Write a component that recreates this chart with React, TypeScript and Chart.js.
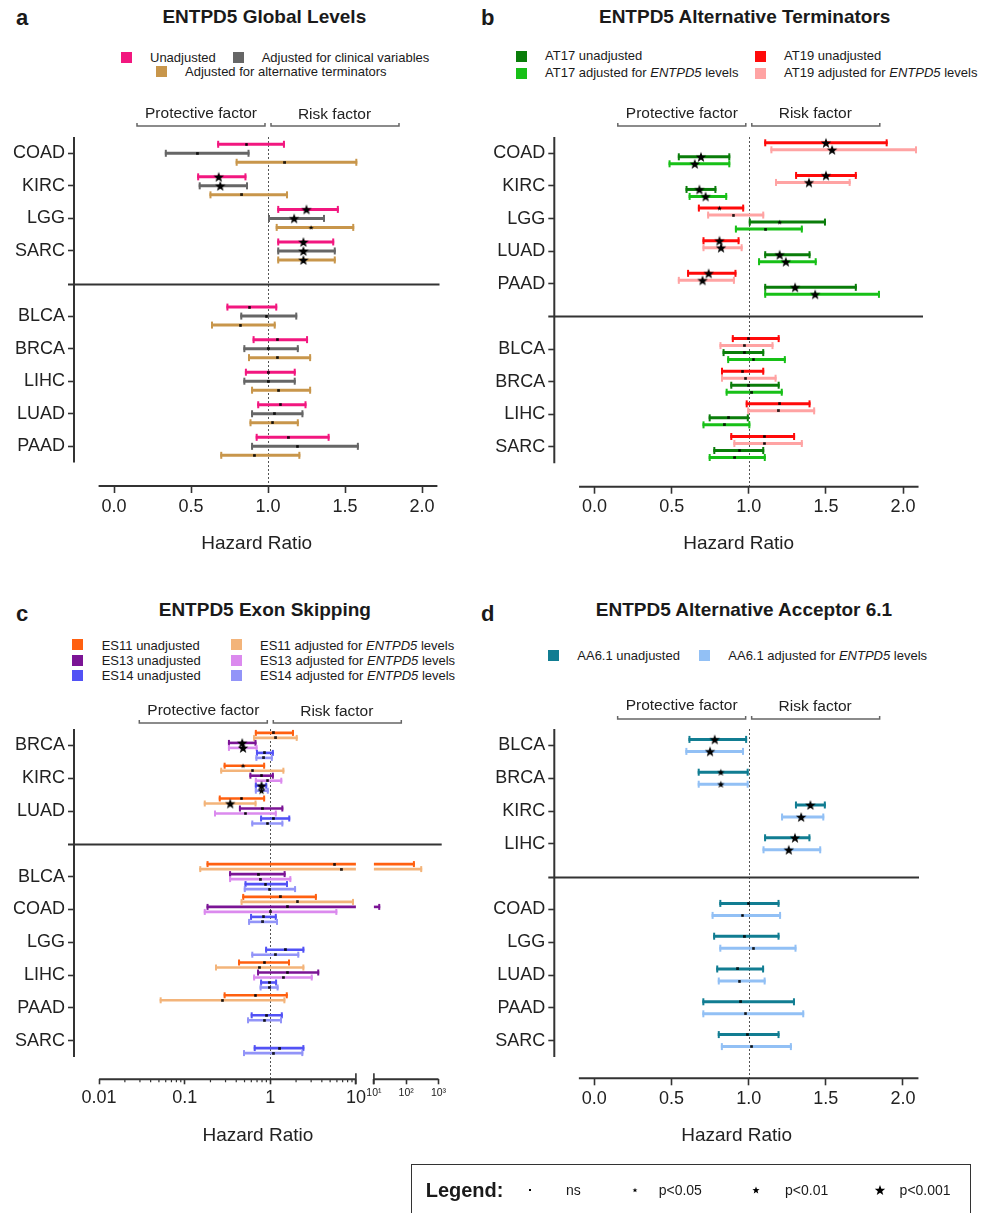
import React, { useEffect, useRef } from 'react';
import { Chart, registerables } from 'chart.js';

Chart.register(...registerables);

const FONT = '"Liberation Sans", Arial, Helvetica, sans-serif';

/* ======================= DATA ======================= */
// each row: [lower 95% CI, hazard ratio, upper 95% CI, significance: 0 ns, 1 p<0.05, 2 p<0.01, 3 p<0.001]

// a — ENTPD5 Global Levels
const A_TOP = ['COAD', 'KIRC', 'LGG', 'SARC'];
const A_BOTTOM = ['BLCA', 'BRCA', 'LIHC', 'LUAD', 'PAAD'];
const A_UNADJUSTED = [
  [0.67, 0.86, 1.11, 0], [0.54, 0.68, 0.86, 3], [1.06, 1.25, 1.46, 3], [1.06, 1.23, 1.43, 3],
  [0.73, 0.88, 1.06, 0], [0.90, 1.06, 1.26, 0], [0.85, 1.00, 1.18, 0], [0.93, 1.08, 1.25, 0], [0.92, 1.13, 1.40, 0],
];
const A_CLINICAL = [
  [0.33, 0.54, 0.88, 0], [0.55, 0.69, 0.87, 3], [1.00, 1.17, 1.37, 3], [1.06, 1.23, 1.44, 3],
  [0.82, 0.99, 1.19, 0], [0.84, 1.00, 1.20, 0], [0.84, 1.00, 1.18, 0], [0.89, 1.04, 1.23, 0], [0.89, 1.19, 1.59, 0],
];
const A_TERMINATORS = [
  [0.79, 1.11, 1.58, 0], [0.62, 0.83, 1.13, 0], [1.05, 1.28, 1.56, 1], [1.06, 1.23, 1.44, 3],
  [0.63, 0.82, 1.05, 0], [0.87, 1.06, 1.28, 0], [0.89, 1.07, 1.28, 0], [0.88, 1.03, 1.20, 0], [0.69, 0.91, 1.21, 0],
];

// b — ENTPD5 Alternative Terminators
const B_TOP = ['COAD', 'KIRC', 'LGG', 'LUAD', 'PAAD'];
const B_BOTTOM = ['BLCA', 'BRCA', 'LIHC', 'SARC'];
const B_AT19_UNADJ = [
  [1.10, 1.50, 1.90, 3], [1.30, 1.50, 1.70, 3], [0.67, 0.81, 0.97, 1], [0.70, 0.81, 0.94, 3], [0.60, 0.74, 0.92, 3],
  [0.89, 1.00, 1.20, 0], [0.82, 0.96, 1.10, 0], [0.98, 1.20, 1.40, 0], [0.88, 1.10, 1.30, 0],
];
const B_AT19_ADJ = [
  [1.14, 1.54, 2.09, 3], [1.17, 1.39, 1.66, 3], [0.73, 0.90, 1.10, 0], [0.70, 0.82, 0.96, 3], [0.54, 0.70, 0.91, 3],
  [0.81, 0.97, 1.16, 0], [0.82, 0.98, 1.18, 0], [0.99, 1.19, 1.43, 0], [0.90, 1.10, 1.35, 0],
];
const B_AT17_UNADJ = [
  [0.54, 0.69, 0.88, 3], [0.59, 0.68, 0.79, 3], [1.00, 1.20, 1.50, 1], [1.10, 1.20, 1.40, 3], [1.10, 1.30, 1.70, 3],
  [0.83, 0.97, 1.10, 0], [0.88, 1.00, 1.20, 0], [0.74, 0.87, 1.00, 0], [0.77, 0.94, 1.10, 0],
];
const B_AT17_ADJ = [
  [0.48, 0.65, 0.88, 3], [0.61, 0.72, 0.86, 3], [0.91, 1.11, 1.35, 0], [1.06, 1.24, 1.44, 3], [1.10, 1.43, 1.85, 3],
  [0.86, 1.03, 1.24, 0], [0.85, 1.02, 1.22, 0], [0.70, 0.84, 1.01, 0], [0.74, 0.91, 1.11, 0],
];

// c — ENTPD5 Exon Skipping (null = not estimated)
const C_TOP = ['BRCA', 'KIRC', 'LUAD'];
const C_BOTTOM = ['BLCA', 'COAD', 'LGG', 'LIHC', 'PAAD', 'SARC'];
const C_ES11_UNADJ = [
  [0.66, 1.08, 1.89, 0], [0.285, 0.48, 0.87, 1], [0.25, 0.46, 0.87, 0],
  [0.18, 5.65, 186, 0], [0.47, 1.30, 3.5, 0], null, [0.42, 0.85, 1.70, 0], [0.285, 0.67, 1.60, 0], null,
];
const C_ES11_ADJ = [
  [0.63, 1.16, 2.09, 0], [0.26, 0.62, 1.46, 0], [0.167, 0.34, 0.69, 3],
  [0.148, 6.7, 313, 0], [0.45, 2.07, 9.5, 0], null, [0.226, 0.74, 2.5, 0], [0.051, 0.275, 1.50, 0], null,
];
const C_ES13_UNADJ = [
  [0.32, 0.47, 0.69, 3], [0.57, 0.79, 1.10, 0], [0.43, 0.80, 1.42, 0],
  [0.33, 0.72, 1.51, 0], [0.18, 1.58, 15.7, 0], null, [0.70, 1.58, 3.73, 0], null, null,
];
const C_ES13_ADJ = [
  [0.32, 0.48, 0.71, 3], [0.66, 0.93, 1.38, 0], [0.22, 0.51, 1.19, 0],
  [0.33, 0.76, 1.76, 0], [0.167, 1.00, 6.07, 0], null, [0.63, 1.41, 3.13, 0], null, null,
];
const C_ES14_UNADJ = [
  [0.68, 0.85, 1.10, 0], [0.66, 0.79, 0.92, 3], [0.76, 1.08, 1.71, 0],
  [0.50, 0.88, 1.61, 0], [0.58, 0.83, 1.19, 0], [0.87, 1.49, 2.50, 0], [0.76, 0.97, 1.20, 0], [0.59, 0.91, 1.40, 0], [0.64, 1.29, 2.50, 0],
];
const C_ES14_ADJ = [
  [0.67, 0.84, 1.07, 0], [0.66, 0.79, 0.96, 2], [0.60, 0.93, 1.42, 0],
  [0.49, 0.98, 2.00, 0], [0.55, 0.82, 1.23, 0], [0.60, 1.14, 2.18, 0], [0.75, 0.97, 1.25, 0], [0.535, 0.85, 1.37, 0], [0.48, 1.08, 2.43, 0],
];

// d — ENTPD5 Alternative Acceptor 6.1
const D_TOP = ['BLCA', 'BRCA', 'KIRC', 'LIHC'];
const D_BOTTOM = ['COAD', 'LGG', 'LUAD', 'PAAD', 'SARC'];
const D_UNADJ = [
  [0.61, 0.78, 0.99, 3], [0.67, 0.82, 1.00, 2], [1.30, 1.40, 1.50, 3], [1.10, 1.30, 1.40, 3],
  [0.81, 1.00, 1.20, 0], [0.77, 0.97, 1.20, 0], [0.79, 0.93, 1.10, 0], [0.70, 0.95, 1.30, 0], [0.80, 0.99, 1.20, 0],
];
const D_ADJ = [
  [0.59, 0.75, 0.97, 3], [0.67, 0.82, 1.00, 2], [1.21, 1.34, 1.49, 3], [1.09, 1.26, 1.47, 3],
  [0.76, 0.96, 1.21, 0], [0.81, 1.03, 1.31, 0], [0.80, 0.94, 1.11, 0], [0.70, 0.98, 1.36, 0], [0.82, 1.02, 1.28, 0],
];

// axis ticks
const LINEAR_TICKS = [0, 0.5, 1, 1.5, 2];
const LINEAR_AXIS_EXTENT = [-0.1, 2.1];
const LOG_TICKS_MAIN = [0.01, 0.1, 1, 10];
const LOG_LABELS_MAIN = ['0.01', '0.1', '1', '10'];
const LOG_TICKS_HIGH = [10, 100, 1000];
const LOG_LABELS_HIGH = ['10\u00B9', '10\u00B2', '10\u00B3'];
const SIG_LABELS = ['ns', 'p<0.05', 'p<0.01', 'p<0.001'];

/* ======================= STYLE / LAYOUT ======================= */
const BREAK = 10;
const LOG_GAP = 18 / 85.6;
const LOG_K = 32.3 / 85.6;
const SIG_RADIUS = [0, 2.6, 3.8, 5.5];

function toU(v: number, log: boolean, high = false) {
  if (!log) return v;
  const L = Math.log10(v);
  if (v <= BREAK && !high) return L;
  return 1 + LOG_GAP + (L - 1) * LOG_K;
}

function pieces(lo: number, hi: number, log: boolean) {
  if (!log || hi <= BREAK) return [[toU(lo, log), toU(hi, log), true, true]];
  return [
    [toU(lo, log), toU(BREAK, log), true, false],
    [toU(BREAK, log, true), toU(hi, log, true), false, true],
  ];
}

function starPath(g: any, cx: number, cy: number, r: number) {
  const ri = r * 0.42;
  g.beginPath();
  for (let i = 0; i < 10; i++) {
    const ang = -Math.PI / 2 + (i * Math.PI) / 5;
    const rr = i % 2 === 0 ? r : ri;
    const px = cx + rr * Math.cos(ang);
    const py = cy + rr * Math.sin(ang);
    if (i === 0) g.moveTo(px, py);
    else g.lineTo(px, py);
  }
  g.closePath();
}

function makeMarkers() {
  return [0, 1, 2, 3].map((sig) => {
    const c = document.createElement('canvas');
    const g: any = c.getContext('2d');
    if (sig === 0) {
      c.width = 3; c.height = 3;
      g.fillStyle = '#000';
      g.fillRect(0.25, 0.25, 2.5, 2.5);
      return c;
    }
    const r = SIG_RADIUS[sig];
    const size = Math.ceil(2 * r + 3);
    c.width = size; c.height = size;
    g.fillStyle = '#000';
    starPath(g, size / 2, size / 2 + r * 0.1, r);
    g.fill();
    return c;
  });
}

const PANEL_A = {
  top: A_TOP, bottom: A_BOTTOM, log: false, step: 0.2764, barWidth: 3, capH: 7,
  series: [
    { label: 'Unadjusted', color: '#F2177F', rows: A_UNADJUSTED },
    { label: 'Adjusted for clinical variables', color: '#666666', rows: A_CLINICAL },
    { label: 'Adjusted for alternative terminators', color: '#C8964B', rows: A_TERMINATORS },
  ],
  geo: { canvasLeft: 0, canvasTop: 88, width: 475, height: 480, areaLeft: 74, areaTop: 137, areaRight: 439.5, areaBottom: 486,
    zeroPx: 114, unitPx: 154, slotPx: 32.56, titleCy: 544, bracketDy: -11, textDy: -23.5, xTickLen: 7 },
};
const PANEL_B = {
  top: B_TOP, bottom: B_BOTTOM, log: false, step: 0.2145, barWidth: 3, capH: 7,
  series: [
    { label: 'AT19 unadjusted', color: '#FF0A0A', rows: B_AT19_UNADJ },
    { label: 'AT19 adjusted for ENTPD5 levels', color: '#FFA3A3', rows: B_AT19_ADJ },
    { label: 'AT17 unadjusted', color: '#0A7D0A', rows: B_AT17_UNADJ },
    { label: 'AT17 adjusted for ENTPD5 levels', color: '#17C017', rows: B_AT17_ADJ },
  ],
  geo: { canvasLeft: 480, canvasTop: 88, width: 475, height: 480, areaLeft: 554.3, areaTop: 137, areaRight: 923, areaBottom: 486.7,
    zeroPx: 594.5, unitPx: 154.3, slotPx: 32.63, titleCy: 544, bracketDy: -11, textDy: -23.7, xTickLen: 7 },
};
const PANEL_C = {
  top: C_TOP, bottom: C_BOTTOM, log: true, step: 0.1524, barWidth: 2.6, capH: 6,
  series: [
    { label: 'ES11 unadjusted', color: '#FF6010', rows: C_ES11_UNADJ },
    { label: 'ES11 adjusted for ENTPD5 levels', color: '#F3B47A', rows: C_ES11_ADJ },
    { label: 'ES13 unadjusted', color: '#7B1495', rows: C_ES13_UNADJ },
    { label: 'ES13 adjusted for ENTPD5 levels', color: '#DB8AEE', rows: C_ES13_ADJ },
    { label: 'ES14 unadjusted', color: '#5252F5', rows: C_ES14_UNADJ },
    { label: 'ES14 adjusted for ENTPD5 levels', color: '#9294F8', rows: C_ES14_ADJ },
  ],
  geo: { canvasLeft: 0, canvasTop: 678, width: 475, height: 492, areaLeft: 74, areaTop: 729, areaRight: 441.7, areaBottom: 1079.3,
    zeroPx: 270.3, unitPx: 85.6, slotPx: 32.8, titleCy: 1136, bracketDy: -6, textDy: -18.5, xTickLen: 5 },
};
const PANEL_D = {
  top: D_TOP, bottom: D_BOTTOM, log: false, step: 0.366, barWidth: 3, capH: 7,
  series: [
    { label: 'AA6.1 unadjusted', color: '#117D92', rows: D_UNADJ },
    { label: 'AA6.1 adjusted for ENTPD5 levels', color: '#92C0F5', rows: D_ADJ },
  ],
  geo: { canvasLeft: 480, canvasTop: 678, width: 475, height: 492, areaLeft: 554.3, areaTop: 729, areaRight: 919, areaBottom: 1078.3,
    zeroPx: 594.3, unitPx: 154.35, slotPx: 32.8, titleCy: 1136, bracketDy: -10, textDy: -23.3, xTickLen: 7 },
};

function buildChart(canvas: HTMLCanvasElement, p: any) {
  const g = p.geo;
  const markers = makeMarkers();
  const nTop = p.top.length;
  const cats = [...p.top, ...p.bottom];
  const slotOf = (i: number) => (i < nTop ? i : i + 1);
  const slots = cats.map((_: any, i: number) => slotOf(i));
  const lastSlot = cats.length;
  const ns = p.series.length;

  const datasets = p.series.map((s: any, si: number) => ({
    label: s.label,
    borderColor: s.color,
    backgroundColor: s.color,
    data: s.rows
      .map((r: any, i: number) => (r ? { x: toU(r[1], p.log), y: slotOf(i) + (si - (ns - 1) / 2) * p.step, lo: r[0], hi: r[2], sig: r[3] } : null))
      .filter((d: any) => d),
    pointStyle: (ctx: any) => markers[ctx.raw ? ctx.raw.sig : 0],
    pointRadius: 3,
    pointHoverRadius: 3,
  }));

  let tickList: any[];
  if (p.log) {
    tickList = [
      ...LOG_TICKS_MAIN.map((v, i) => ({ u: toU(v, true), label: LOG_LABELS_MAIN[i], small: false })),
      ...LOG_TICKS_HIGH.map((v, i) => ({ u: toU(v, true, true), label: LOG_LABELS_HIGH[i], small: true })),
    ];
  } else {
    tickList = LINEAR_TICKS.map((v) => ({ u: v, label: v.toFixed(1), small: false }));
  }

  const xMin = (g.areaLeft - g.zeroPx) / g.unitPx;
  const xMax = (g.areaRight - g.zeroPx) / g.unitPx;
  const yMax = -0.5 + (g.areaBottom - g.areaTop) / g.slotPx;
  const titleSize = 19;
  const titleBottom = g.titleCy + (titleSize * 1.2) / 2;
  const xAxisH = titleBottom - g.areaBottom;
  const yAxisW = g.areaLeft - g.canvasLeft;
  const padTop = g.areaTop - g.canvasTop;
  const padRight = g.canvasLeft + g.width - g.areaRight;
  const padBottom = g.canvasTop + g.height - titleBottom;

  const decor = {
    id: 'forestDecor',
    beforeDatasetsDraw(chart: any) {
      const { ctx, chartArea: a, scales } = chart;
      const x = scales.x, y = scales.y;
      ctx.save();
      const x1 = Math.round(x.getPixelForValue(toU(1, p.log))) + 0.5;
      ctx.strokeStyle = '#555';
      ctx.lineWidth = 1;
      ctx.setLineDash([2, 2]);
      ctx.beginPath();
      ctx.moveTo(x1, a.top);
      ctx.lineTo(x1, a.bottom);
      ctx.stroke();
      ctx.setLineDash([]);
      chart.data.datasets.forEach((ds: any) => {
        ctx.strokeStyle = ds.borderColor;
        ds.data.forEach((pt: any) => {
          const py = y.getPixelForValue(pt.y);
          pieces(pt.lo, pt.hi, p.log).forEach((pc: any) => {
            const p1 = x.getPixelForValue(pc[0]);
            const p2 = x.getPixelForValue(pc[1]);
            ctx.lineWidth = p.barWidth;
            ctx.lineCap = 'butt';
            ctx.beginPath();
            ctx.moveTo(p1, py);
            ctx.lineTo(p2, py);
            ctx.stroke();
            ctx.lineWidth = 2;
            if (pc[2]) {
              ctx.beginPath();
              ctx.moveTo(p1 + 1, py - p.capH / 2);
              ctx.lineTo(p1 + 1, py + p.capH / 2);
              ctx.stroke();
            }
            if (pc[3]) {
              ctx.beginPath();
              ctx.moveTo(p2 - 1, py - p.capH / 2);
              ctx.lineTo(p2 - 1, py + p.capH / 2);
              ctx.stroke();
            }
          });
        });
      });
      ctx.restore();
    },
    afterDatasetsDraw(chart: any) {
      const { ctx, chartArea: a, scales } = chart;
      const x = scales.x, y = scales.y;
      ctx.save();
      ctx.strokeStyle = '#333';
      ctx.lineWidth = 2;
      // y axis line
      ctx.beginPath();
      ctx.moveTo(a.left, y.getPixelForValue(-0.5));
      ctx.lineTo(a.left, y.getPixelForValue(lastSlot + 0.5));
      ctx.stroke();
      // separator between significant / non-significant groups
      const sy = Math.round(y.getPixelForValue(nTop)) + 0.5;
      ctx.lineWidth = 1.8;
      ctx.beginPath();
      ctx.moveTo(a.left - 6, sy);
      ctx.lineTo(a.right, sy);
      ctx.stroke();
      // x axis line(s)
      const xb = a.bottom;
      ctx.lineWidth = 2;
      if (!p.log) {
        ctx.beginPath();
        ctx.moveTo(x.getPixelForValue(LINEAR_AXIS_EXTENT[0]), xb);
        ctx.lineTo(x.getPixelForValue(LINEAR_AXIS_EXTENT[1]), xb);
        ctx.stroke();
      } else {
        const m0 = x.getPixelForValue(toU(LOG_TICKS_MAIN[0], true));
        const m1 = x.getPixelForValue(toU(BREAK, true));
        const h0 = x.getPixelForValue(toU(BREAK, true, true));
        const h1 = x.getPixelForValue(toU(LOG_TICKS_HIGH[LOG_TICKS_HIGH.length - 1], true, true));
        ctx.beginPath();
        ctx.moveTo(m0, xb); ctx.lineTo(m1, xb);
        ctx.moveTo(h0, xb); ctx.lineTo(h1, xb);
        ctx.stroke();
        ctx.lineWidth = 1.6;
        ctx.beginPath();
        [m1, h0].forEach((bx) => { ctx.moveTo(bx, xb - 6); ctx.lineTo(bx, xb + 5); });
        ctx.stroke();
        // minor log ticks
        ctx.lineWidth = 1.2;
        ctx.beginPath();
        for (let d = -2; d < 1; d++) {
          for (let k = 2; k <= 9; k++) {
            const mx = x.getPixelForValue(d + Math.log10(k));
            ctx.moveTo(mx, xb);
            ctx.lineTo(mx, xb + 3);
          }
        }
        ctx.stroke();
      }
      // protective / risk brackets
      const x1 = x.getPixelForValue(toU(1, p.log));
      const by = a.top + g.bracketDy;
      ctx.strokeStyle = '#666';
      ctx.lineWidth = 1.5;
      [[-131, -3], [3, 131]].forEach(([s, e]) => {
        ctx.beginPath();
        ctx.moveTo(x1 + s, by - 3);
        ctx.lineTo(x1 + s, by);
        ctx.lineTo(x1 + e, by);
        ctx.lineTo(x1 + e, by - 3);
        ctx.stroke();
      });
      ctx.fillStyle = '#222';
      ctx.font = `15.5px ${FONT}`;
      ctx.textAlign = 'center';
      ctx.textBaseline = 'middle';
      ctx.fillText('Protective factor', x1 - 67, a.top + g.textDy);
      ctx.fillText('Risk factor', x1 + 66.5, a.top + g.textDy + 0.8);
      ctx.restore();
    },
  };

  return new Chart(canvas, {
    type: 'scatter',
    data: { datasets },
    options: {
      animation: false,
      responsive: false,
      devicePixelRatio: 1,
      events: [],
      layout: { padding: { left: 0, top: padTop, right: padRight, bottom: padBottom } },
      plugins: { legend: { display: false }, tooltip: { enabled: false }, title: { display: false } },
      scales: {
        x: {
          type: 'linear',
          position: 'bottom',
          min: xMin,
          max: xMax,
          afterFit: (s: any) => { s.height = xAxisH; },
          afterBuildTicks: (s: any) => { s.ticks = tickList.map((t) => ({ value: t.u })); },
          ticks: {
            autoSkip: false,
            maxRotation: 0,
            padding: 3,
            color: '#222',
            font: (ctx: any) => ({ family: FONT, size: tickList[ctx.index] && tickList[ctx.index].small ? 10.5 : 18 }),
            callback: (_v: any, i: number) => (tickList[i] ? tickList[i].label : ''),
          },
          grid: { display: true, drawOnChartArea: false, drawTicks: true, tickLength: g.xTickLen, tickColor: '#333', tickWidth: 1.6 },
          border: { display: false },
          title: { display: true, text: 'Hazard Ratio', color: '#222', font: { family: FONT, size: titleSize }, padding: { top: 0, bottom: 0 } },
        },
        y: {
          type: 'linear',
          reverse: true,
          min: -0.5,
          max: yMax,
          afterFit: (s: any) => { s.width = yAxisW; },
          afterBuildTicks: (s: any) => { s.ticks = slots.map((v: number) => ({ value: v })); },
          ticks: {
            autoSkip: false,
            padding: 3,
            color: '#222',
            font: { family: FONT, size: 18 },
            callback: (_v: any, i: number) => cats[i],
          },
          grid: { display: true, drawOnChartArea: false, drawTicks: true, tickLength: 6, tickColor: '#333', tickWidth: 1.6 },
          border: { display: false },
        },
      },
    },
    plugins: [decor],
  } as any);
}

function ForestPanel({ panel }: { panel: any }) {
  const ref = useRef<HTMLCanvasElement>(null);
  useEffect(() => {
    if (!ref.current) return;
    const chart = buildChart(ref.current, panel);
    return () => chart.destroy();
  }, [panel]);
  const g = panel.geo;
  return (
    <canvas
      ref={ref}
      width={g.width}
      height={g.height}
      style={{ position: 'absolute', left: g.canvasLeft, top: g.canvasTop, width: g.width, height: g.height }}
    />
  );
}

function Txt({ x, cy, size = 13, bold = false, center = false, children }: any) {
  const lh = size * 1.2;
  return (
    <div
      style={{
        position: 'absolute',
        left: center ? x - 300 : x,
        top: cy - lh / 2,
        width: center ? 600 : undefined,
        textAlign: center ? 'center' : 'left',
        fontFamily: FONT,
        fontSize: size,
        lineHeight: `${lh}px`,
        fontWeight: bold ? 700 : 400,
        color: '#1a1a1a',
        whiteSpace: 'nowrap',
      }}
    >
      {children}
    </div>
  );
}

function Sq({ x, y, color }: any) {
  return <div style={{ position: 'absolute', left: x, top: y, width: 11, height: 11, background: color }} />;
}

function Marker({ cx, cy, sig }: any) {
  const size = 16;
  if (sig === 0) {
    return <div style={{ position: 'absolute', left: cx - 1.25, top: cy - 1.25, width: 2.5, height: 2.5, background: '#000' }} />;
  }
  const r = SIG_RADIUS[sig];
  const ri = r * 0.42;
  const pts: string[] = [];
  for (let i = 0; i < 10; i++) {
    const ang = -Math.PI / 2 + (i * Math.PI) / 5;
    const rr = i % 2 === 0 ? r : ri;
    pts.push(`${(size / 2 + rr * Math.cos(ang)).toFixed(2)},${(size / 2 + r * 0.1 + rr * Math.sin(ang)).toFixed(2)}`);
  }
  return (
    <svg width={size} height={size} style={{ position: 'absolute', left: cx - size / 2, top: cy - size / 2 }}>
      <polygon points={pts.join(' ')} fill="#000" />
    </svg>
  );
}

export default function App() {
  const ent = <i>ENTPD5</i>;
  return (
    <div style={{ position: 'absolute', left: 0, top: 0, width: 989, height: 1213, overflow: 'hidden', background: '#fff' }}>
      {/* panel letters and titles */}
      <Txt x={16} cy={18} size={22} bold>a</Txt>
      <Txt x={264.3} cy={17.5} size={19} bold center>ENTPD5 Global Levels</Txt>
      <Txt x={481} cy={18} size={22} bold>b</Txt>
      <Txt x={744.7} cy={17.5} size={19} bold center>ENTPD5 Alternative Terminators</Txt>
      <Txt x={16} cy={614} size={22} bold>c</Txt>
      <Txt x={264.8} cy={610.7} size={19} bold center>ENTPD5 Exon Skipping</Txt>
      <Txt x={481} cy={614} size={22} bold>d</Txt>
      <Txt x={744} cy={610.7} size={19} bold center>ENTPD5 Alternative Acceptor 6.1</Txt>

      {/* legend a */}
      <Sq x={121} y={51.7} color="#F2177F" />
      <Txt x={150} cy={57.5}>Unadjusted</Txt>
      <Sq x={233} y={51.7} color="#666666" />
      <Txt x={261.7} cy={57.5}>Adjusted for clinical variables</Txt>
      <Sq x={156} y={66} color="#C8964B" />
      <Txt x={185} cy={71.3}>Adjusted for alternative terminators</Txt>

      {/* legend b */}
      <Sq x={516} y={51} color="#0A7D0A" />
      <Txt x={545} cy={56}>AT17 unadjusted</Txt>
      <Sq x={516} y={68.3} color="#17C017" />
      <Txt x={545} cy={72.7}>AT17 adjusted for {ent} levels</Txt>
      <Sq x={755} y={51} color="#FF0A0A" />
      <Txt x={784} cy={56}>AT19 unadjusted</Txt>
      <Sq x={755} y={68.3} color="#FFA3A3" />
      <Txt x={784} cy={72.7}>AT19 adjusted for {ent} levels</Txt>

      {/* legend c */}
      <Sq x={72.3} y={639.3} color="#FF6010" />
      <Txt x={101.7} cy={646}>ES11 unadjusted</Txt>
      <Sq x={72.3} y={655} color="#7B1495" />
      <Txt x={101.7} cy={660.7}>ES13 unadjusted</Txt>
      <Sq x={72.3} y={670} color="#5252F5" />
      <Txt x={101.7} cy={675.3}>ES14 unadjusted</Txt>
      <Sq x={230.7} y={639.3} color="#F3B47A" />
      <Txt x={260} cy={646}>ES11 adjusted for {ent} levels</Txt>
      <Sq x={230.7} y={655} color="#DB8AEE" />
      <Txt x={260} cy={660.7}>ES13 adjusted for {ent} levels</Txt>
      <Sq x={230.7} y={670} color="#9294F8" />
      <Txt x={260} cy={675.3}>ES14 adjusted for {ent} levels</Txt>

      {/* legend d */}
      <Sq x={548.3} y={650} color="#117D92" />
      <Txt x={577.3} cy={655.3}>AA6.1 unadjusted</Txt>
      <Sq x={699} y={650} color="#92C0F5" />
      <Txt x={728.3} cy={655.3}>AA6.1 adjusted for {ent} levels</Txt>

      <ForestPanel panel={PANEL_A} />
      <ForestPanel panel={PANEL_B} />
      <ForestPanel panel={PANEL_C} />
      <ForestPanel panel={PANEL_D} />

      {/* significance legend */}
      <div style={{ position: 'absolute', left: 410.5, top: 1164, width: 560, height: 70, border: '1.5px solid #333', boxSizing: 'border-box' }} />
      <Txt x={425.7} cy={1190} size={20} bold>Legend:</Txt>
      <Marker cx={530} cy={1190} sig={0} />
      <Txt x={566} cy={1190} size={14}>{SIG_LABELS[0]}</Txt>
      <Marker cx={635} cy={1190} sig={1} />
      <Txt x={658.7} cy={1190} size={14}>{SIG_LABELS[1]}</Txt>
      <Marker cx={755.5} cy={1190} sig={2} />
      <Txt x={785} cy={1190} size={14}>{SIG_LABELS[2]}</Txt>
      <Marker cx={880} cy={1190} sig={3} />
      <Txt x={899.6} cy={1190} size={14}>{SIG_LABELS[3]}</Txt>
    </div>
  );
}
